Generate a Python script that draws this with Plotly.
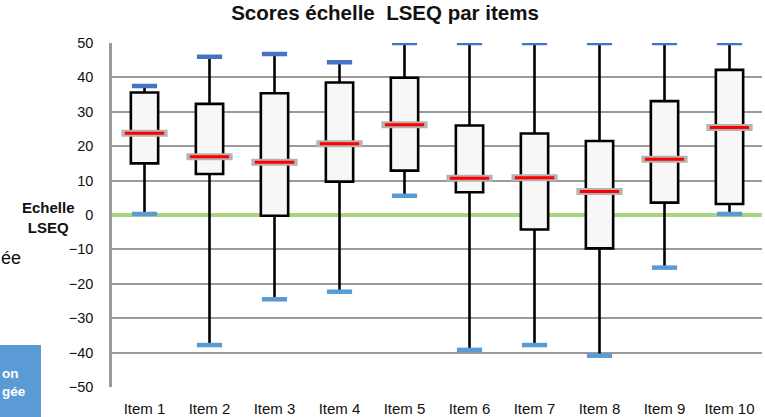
import plotly.graph_objects as go

items = ["Item 1", "Item 2", "Item 3", "Item 4", "Item 5",
         "Item 6", "Item 7", "Item 8", "Item 9", "Item 10"]
minimum = [0.3, -37.8, -24.5, -22.3, 5.6, -39.2, -37.8, -40.9, -15.3, 0.3]
q1 = [15.0, 11.9, -0.2, 9.7, 12.9, 6.6, -4.2, -9.7, 3.6, 3.2]
median = [23.8, 16.9, 15.3, 20.7, 26.2, 10.7, 10.8, 6.8, 16.2, 25.4]
q3 = [35.6, 32.3, 35.4, 38.5, 39.9, 26.0, 23.7, 21.5, 33.1, 42.2]
maximum = [37.5, 46.0, 46.8, 44.4, 50.0, 50.0, 50.0, 50.0, 50.0, 50.0]
y_ticks = [-50, -40, -30, -20, -10, 0, 10, 20, 30, 40, 50]

FONT = "Liberation Sans, Arial, sans-serif"

fig = go.Figure()

fig.add_trace(go.Box(
    x=items, q1=q1, median=median, q3=q3,
    lowerfence=minimum, upperfence=maximum,
    width=0.42, whiskerwidth=0,
    fillcolor="#f7f7f7",
    line=dict(color="black", width=2.6),
    boxpoints=False, hoverinfo="skip", showlegend=False,
))

# whisker caps
fig.add_trace(go.Scatter(
    x=items, y=maximum, mode="markers", showlegend=False, hoverinfo="skip",
    marker=dict(symbol="line-ew", size=18, line=dict(color="#4472C4", width=4.5)),
))
fig.add_trace(go.Scatter(
    x=items, y=minimum, mode="markers", showlegend=False, hoverinfo="skip",
    marker=dict(symbol="line-ew", size=18, line=dict(color="#5B9BD5", width=4.5)),
))
# median markers
fig.add_trace(go.Scatter(
    x=items, y=median, mode="markers", showlegend=False, hoverinfo="skip",
    marker=dict(symbol="line-ew", size=33, line=dict(color="#b3b3b3", width=7)),
))
fig.add_trace(go.Scatter(
    x=items, y=median, mode="markers", showlegend=False, hoverinfo="skip",
    marker=dict(symbol="line-ew", size=28, line=dict(color="#ff0000", width=3)),
))

fig.update_layout(
    width=765, height=417,
    margin=dict(l=112, r=3, t=43, b=30, autoexpand=False),
    paper_bgcolor="white", plot_bgcolor="white",
    font=dict(family=FONT, size=14, color="#111"),
    title=dict(text="<b>Scores échelle  LSEQ par items</b>",
               x=385 / 765, xanchor="center", y=1 - 13 / 417, yanchor="middle",
               font=dict(family=FONT, size=20.5, color="#111")),
    xaxis=dict(
        type="category", categoryorder="array", categoryarray=items,
        range=[-0.5, 9.5], showgrid=False, zeroline=False, showline=False,
        ticks="outside", ticklen=8, tickcolor="rgba(0,0,0,0)",
        tickfont=dict(size=15, color="#111"), automargin=False,
    ),
    yaxis=dict(
        range=[-50, 50], tickmode="array", tickvals=y_ticks, showgrid=True,
        gridcolor="#9a9a9a", gridwidth=2, layer="below traces",
        zeroline=True, zerolinecolor="#a9d47f", zerolinewidth=4,
        showline=True, linecolor="#9a9a9a", linewidth=2.5,
        ticks="outside", ticklen=13, tickcolor="rgba(0,0,0,0)",
        tickfont=dict(size=14.5, color="#111"), automargin=False,
    ),
)

fig.add_annotation(
    text="<b>Echelle<br>LSEQ</b>", xref="paper", yref="paper",
    x=(48 - 112) / 650, y=(387 - 217) / 344, xanchor="center", yanchor="middle",
    showarrow=False, align="center", font=dict(family=FONT, size=15, color="#111"),
)
fig.add_annotation(
    text="ée", xref="paper", yref="paper",
    x=-113 / 650, y=(387 - 258) / 344, xanchor="left", yanchor="middle",
    showarrow=False, font=dict(family=FONT, size=18, color="#111"),
)
# blue panel at bottom left
fig.add_shape(
    type="rect", xref="paper", yref="paper",
    x0=-115 / 650, x1=(41 - 112) / 650, y0=(387 - 420) / 344, y1=(387 - 345) / 344,
    fillcolor="#5B9BD5", line=dict(width=0), layer="above",
)
fig.add_annotation(
    text="<b>on<br>gée</b>", xref="paper", yref="paper",
    x=-112.5 / 650, y=(387 - 382) / 344, xanchor="left", yanchor="middle",
    showarrow=False, align="left", font=dict(family=FONT, size=13.5, color="white"),
)

fig.write_html("out.html", config={"displayModeBar": False},
               post_script="document.body.style.margin='0';")
